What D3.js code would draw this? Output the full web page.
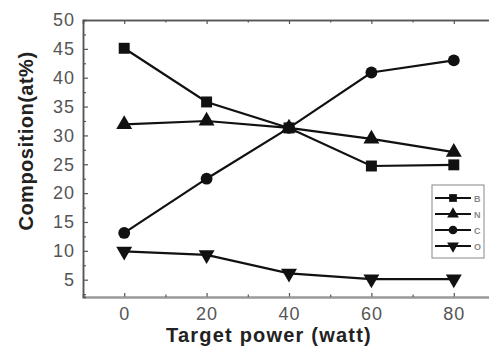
<!DOCTYPE html>
<html>
<head>
<meta charset="UTF-8">
<title>Composition vs target power</title>
<script src="https://d3js.org/d3.v7.min.js"></script>
<style>
  body { margin: 0; background: #fff; }
  text { font-family: "Liberation Sans", Arial, sans-serif; }
</style>
</head>
<body>
<svg width="489" height="347"></svg>
<script>
// data
var power = [0, 20, 40, 60, 80];
var seriesB = [45.1, 35.8, 31.3, 24.7, 24.9];
var seriesN = [31.9, 32.5, 31.3, 29.4, 27.1];
var seriesC = [13.1, 22.5, 31.3, 40.9, 43.0];
var seriesO = [9.9, 9.3, 6.1, 5.1, 5.1];
var seriesNames = ['B', 'N', 'C', 'O'];
var markerTypes = [d3.symbolSquare, d3.symbolTriangle, d3.symbolCircle, 'down'];
var yTicks = [5, 10, 15, 20, 25, 30, 35, 40, 45, 50];
var xTicks = [0, 20, 40, 60, 80];

var series = [seriesB, seriesN, seriesC, seriesO];

var svg = d3.select('svg'),
    plotLeft = 83, plotRight = 495, plotTop = 20, plotBottom = 297;

var x = d3.scaleLinear().domain([-10, 90]).range([plotLeft, plotRight]);
var y = d3.scaleLinear().domain([2, 50]).range([plotBottom, plotTop]);

var axisColor = '#555';

// marker shapes
function marker(sel, type, size) {
    if (type === 'down') {
        sel.attr('d', d3.symbol().type(d3.symbolTriangle).size(size))
           .attr('transform', function () { return d3.select(this).attr('transform') + ' rotate(180)'; });
    } else {
        sel.attr('d', d3.symbol().type(type).size(size));
    }
}
var sizes = [120, 110, 110, 110];

// axes (ticks point inward)
var gx = svg.append('g').attr('transform', 'translate(0,' + plotBottom + ')');
gx.call(d3.axisBottom(x).tickValues(xTicks).tickSizeInner(-4).tickSizeOuter(0).tickPadding(10));
gx.append('g').call(d3.axisBottom(x).tickValues([10, 30, 50, 70]).tickSize(-2.5).tickFormat(''));
gx.selectAll('.domain').attr('stroke', '#999').attr('stroke-width', 2);

var gt = svg.append('g').attr('transform', 'translate(0,' + plotTop + ')');
gt.call(d3.axisTop(x).tickValues(xTicks).tickSize(-4).tickFormat(''));
gt.append('g').call(d3.axisTop(x).tickValues([10, 30, 50, 70]).tickSize(-2.5).tickFormat(''));
gt.selectAll('.domain').attr('stroke', axisColor).attr('stroke-width', 1.5);

var gy = svg.append('g').attr('transform', 'translate(' + plotLeft + ',0)');
gy.call(d3.axisLeft(y).tickValues(yTicks).tickSizeInner(-5).tickSizeOuter(0).tickPadding(8));
gy.append('g').call(d3.axisLeft(y).tickValues([2.5, 7.5, 12.5, 17.5, 22.5, 27.5, 32.5, 37.5, 42.5, 47.5]).tickSize(-3).tickFormat(''));
gy.selectAll('.domain').attr('stroke', axisColor).attr('stroke-width', 1.5);

svg.selectAll('.tick line').attr('stroke', axisColor).attr('stroke-width', 1.2);
svg.selectAll('.tick text').attr('fill', '#555')
    .style('font-size', '18px').style('letter-spacing', '1px');

// axis titles
svg.append('text')
    .attr('transform', 'translate(33,141) rotate(-90)')
    .attr('text-anchor', 'middle')
    .attr('fill', '#222')
    .style('font-size', '20px').style('font-weight', 'bold').style('letter-spacing', '0.5px')
    .text('Composition(at%)');
svg.append('text')
    .attr('x', 269).attr('y', 342)
    .attr('text-anchor', 'middle')
    .attr('fill', '#222')
    .style('font-size', '20px').style('font-weight', 'bold').style('letter-spacing', '1.2px')
    .text('Target power (watt)');

// lines and markers
var line = d3.line().x(function (d, i) { return x(power[i]); }).y(function (d) { return y(d); });

series.forEach(function (vals, k) {
    svg.append('path')
        .datum(vals)
        .attr('fill', 'none')
        .attr('stroke', '#111')
        .attr('stroke-width', 2.2)
        .attr('d', line);
    svg.append('g').selectAll('path')
        .data(vals)
        .enter().append('path')
        .attr('fill', '#111')
        .attr('transform', function (d, i) { return 'translate(' + x(power[i]) + ',' + y(d) + ')'; })
        .call(marker, markerTypes[k], sizes[k]);
});

// legend
var lg = svg.append('g').attr('transform', 'translate(432,185)');
lg.append('rect').attr('width', 52).attr('height', 73)
    .attr('fill', '#fff').attr('stroke', '#888').attr('stroke-width', 1);
seriesNames.forEach(function (name, k) {
    var ly = 13 + k * 16;
    lg.append('line').attr('x1', 3).attr('x2', 39).attr('y1', ly).attr('y2', ly)
        .attr('stroke', '#111').attr('stroke-width', 2.2);
    lg.append('path').attr('fill', '#111')
        .attr('transform', 'translate(21,' + ly + ')')
        .call(marker, markerTypes[k], 60);
    lg.append('text').attr('x', 42).attr('y', ly + 3.5)
        .attr('fill', '#888').style('font-size', '9px').style('font-weight', 'bold')
        .text(name);
});
</script>
</body>
</html>
